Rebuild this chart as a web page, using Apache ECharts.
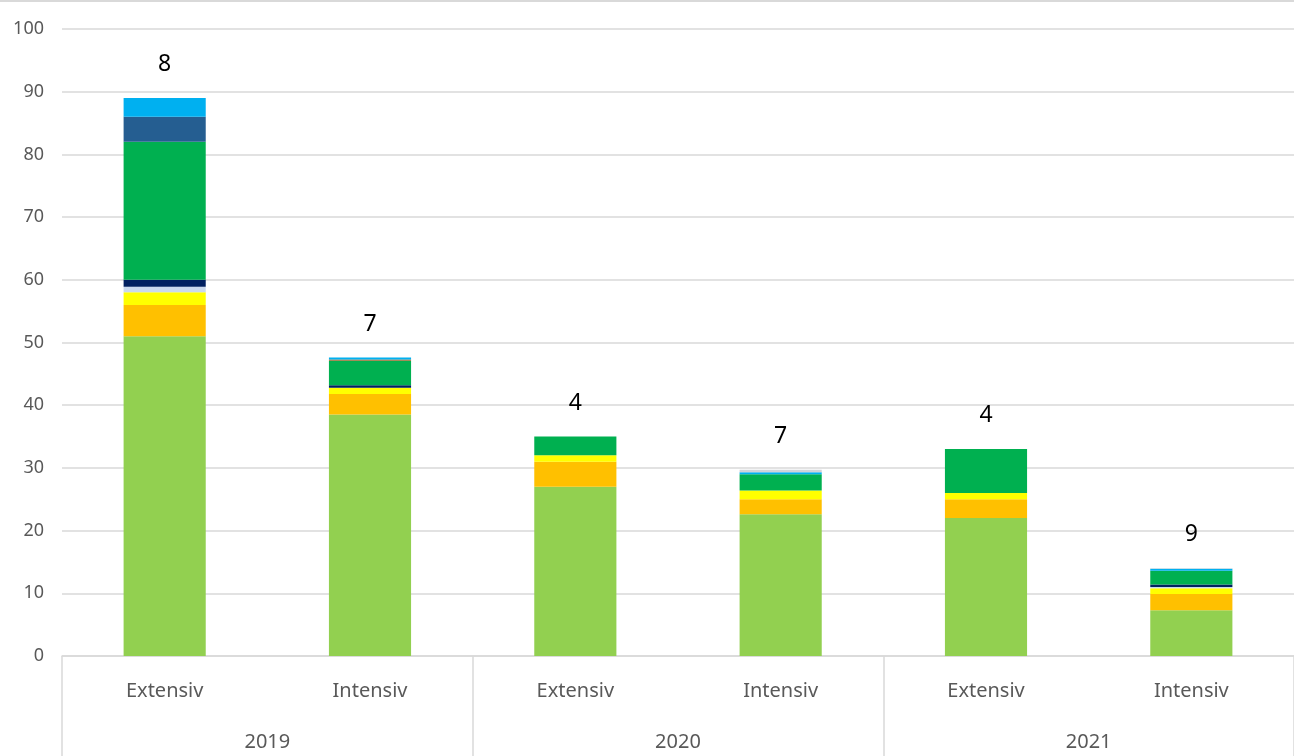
<!DOCTYPE html>
<html><head><meta charset="utf-8">
<script src="https://cdn.jsdelivr.net/npm/echarts@6/dist/echarts.min.js"></script>
<style>html,body{margin:0;padding:0;background:#fff}#c{width:1294px;height:756px}</style>
</head><body><div id="c"></div>
<script>
const categories = ['Extensiv','Intensiv','Extensiv','Intensiv','Extensiv','Intensiv'];
const years = ['2019','2020','2021'];
const counts = [8, 7, 4, 7, 4, 9];
const yTicks = {min: 0, max: 100, interval: 10};

const s1 = [51, 38.5, 27, 22.6, 22, 7.3];      // light green
const s2 = [5, 3.3, 4, 2.4, 3, 2.6];           // orange
const s3 = [2, 1.0, 1, 1.4, 1, 0.9];           // yellow
const s4 = [0.9, 0, 0, 0, 0, 0.2];             // pale blue
const s5 = [1.1, 0.4, 0, 0, 0, 0.4];           // navy
const s6 = [22, 3.9, 3, 2.6, 7, 2.2];          // green
const s7 = [4, 0, 0, 0, 0, 0];                 // dark blue
const s8 = [0, 0.2, 0, 0, 0, 0];               // brown
const s9 = [3, 0.3, 0, 0.3, 0, 0.3];           // light blue
const s10 = [0, 0, 0, 0.4, 0, 0.1];            // light gray

const seriesDefs = [
  ['S1', s1, '#92D050'], ['S2', s2, '#FFC000'], ['S3', s3, '#FFFF00'],
  ['S4', s4, '#C9D9EE'], ['S5', s5, '#002060'], ['S6', s6, '#00B050'],
  ['S7', s7, '#255E91'], ['S8', s8, '#9C6B2E'], ['S9', s9, '#00B0F0'],
  ['S10', s10, '#D0D3D8']
];

const font = 'Noto Sans';
const series = seriesDefs.map(([n, d, c]) => ({
  name: n, type: 'bar', stack: 'a', data: d, barWidth: '40%',
  itemStyle: {color: c}, xAxisIndex: 0
}));
series.push({
  name: 'count', type: 'bar', stack: 'a', data: counts.map(() => 0), barWidth: '40%',
  itemStyle: {color: 'transparent'}, xAxisIndex: 0,
  label: {show: true, position: 'top', distance: 22, color: '#000', fontSize: 23, fontFamily: font,
    formatter: p => String(counts[p.dataIndex])}
});

const chart = echarts.init(document.getElementById('c'), null, {renderer: 'canvas'});
chart.setOption({
  animation: false,
  grid: {left: 62, right: 0, top: 29, bottom: 100, containLabel: false},
  xAxis: [
    {type: 'category', data: categories, position: 'bottom',
     axisLine: {show: true, lineStyle: {color: '#d9d9d9', width: 1.5}},
     axisTick: {show: false},
     axisLabel: {color: '#595959', fontSize: 20, fontFamily: font, margin: 25}},
    {type: 'category', data: years, position: 'bottom',
     axisLine: {show: false},
     axisTick: {show: true, length: 100, lineStyle: {color: '#d9d9d9', width: 1.5}},
     axisLabel: {color: '#595959', fontSize: 20, fontFamily: font, margin: 76}}
  ],
  yAxis: {type: 'value', min: yTicks.min, max: yTicks.max, interval: yTicks.interval,
    axisLine: {show: false}, axisTick: {show: false},
    splitLine: {lineStyle: {color: '#d9d9d9', width: 1.5}},
    axisLabel: {color: '#595959', fontSize: 18, fontFamily: font, margin: 18}},
  graphic: [{type: 'line', shape: {x1: 0, y1: 1, x2: 1294, y2: 1}, style: {stroke: '#d9d9d9', lineWidth: 2}}],
  series: series
});
</script></body></html>
